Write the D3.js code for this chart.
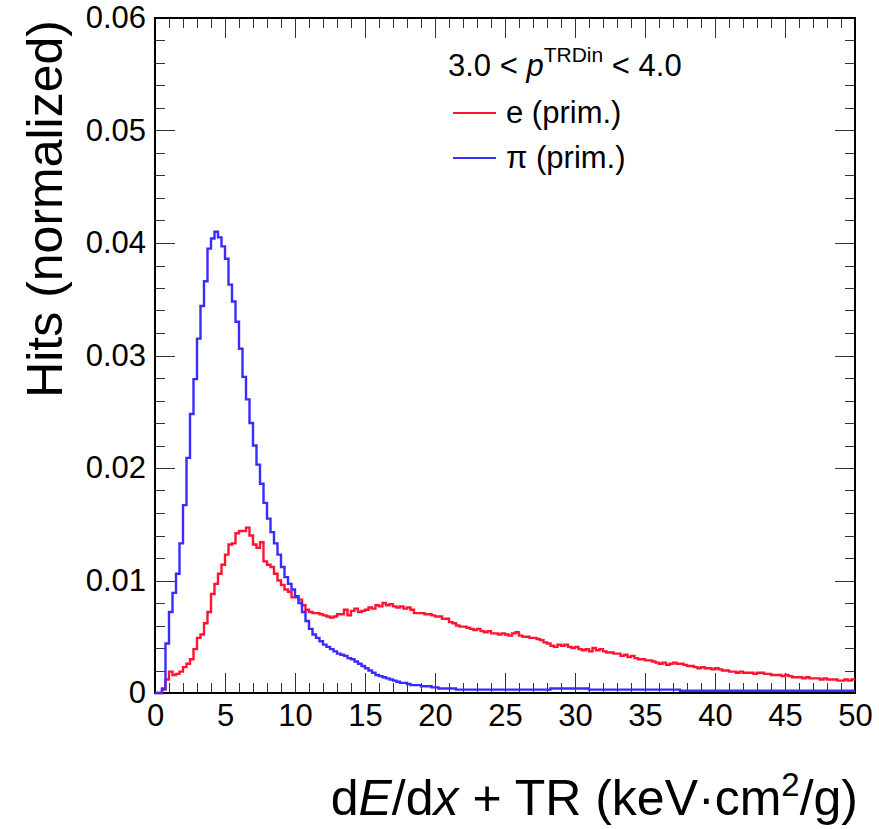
<!DOCTYPE html>
<html>
<head>
<meta charset="utf-8">
<script src="https://cdn.jsdelivr.net/npm/d3@7"></script>
<style>
  body { margin: 0; background: #fff; }
  text { font-family: "Liberation Sans", Arial, sans-serif; }
</style>
</head>
<body>
<div id="chart"></div>
<script>
// bin lower edges: 200 bins of width 0.25 over 0..50
const binWidth = 0.25;
const binEdges = d3.range(0, 50, binWidth);

// e (prim.)
const electronHits = [
  0, 0, 0.0003, 0.0012, 0.0019, 0.0016, 0.0017, 0.0019, 0.0023, 0.0026,
  0.0030, 0.0039, 0.0049, 0.0052, 0.0062, 0.0072, 0.0088, 0.0097, 0.0106, 0.0114,
  0.0123, 0.0132, 0.0133, 0.0142, 0.0144, 0.0144, 0.0147, 0.0140, 0.0132, 0.0129,
  0.0134, 0.0117, 0.0114, 0.0112, 0.0106, 0.0100, 0.0096, 0.0092, 0.0090, 0.0085,
  0.0085, 0.0083, 0.0078, 0.0074, 0.0072, 0.0071, 0.0071, 0.0070, 0.0069, 0.0068,
  0.0067, 0.0068, 0.0070, 0.0070, 0.0074, 0.0069, 0.0073, 0.0075, 0.0072, 0.0073,
  0.0074, 0.0076, 0.0075, 0.0078, 0.0077, 0.0080, 0.0078, 0.0079, 0.0077, 0.0076,
  0.0077, 0.0075, 0.0076, 0.0074, 0.0071, 0.0071, 0.0071, 0.0070, 0.0070, 0.0069,
  0.0068, 0.0068, 0.0066, 0.0066, 0.0063, 0.0062, 0.0060, 0.0059, 0.0059, 0.0058,
  0.0057, 0.0056, 0.0057, 0.0055, 0.0054, 0.0055, 0.0053, 0.0053, 0.0052, 0.0053,
  0.0052, 0.0051, 0.0053, 0.0054, 0.0051, 0.0050, 0.0050, 0.0049, 0.0049, 0.0048,
  0.0047, 0.0045, 0.0044, 0.0042, 0.0041, 0.0043, 0.0042, 0.0043, 0.0041, 0.0040,
  0.0041, 0.0039, 0.0038, 0.0039, 0.0037, 0.0040, 0.0038, 0.0039, 0.0037, 0.0036,
  0.0036, 0.0035, 0.0035, 0.0033, 0.0034, 0.0032, 0.0033, 0.0031, 0.0030, 0.0030,
  0.0029, 0.0029, 0.0028, 0.0027, 0.0026, 0.0027, 0.0025, 0.0026, 0.0027, 0.0026,
  0.0026, 0.0025, 0.0024, 0.0024, 0.0023, 0.0022, 0.0023, 0.0022, 0.0022, 0.0021,
  0.0022, 0.0021, 0.0020, 0.0020, 0.0019, 0.0019, 0.0018, 0.0019, 0.0018, 0.0018,
  0.0018, 0.0017, 0.0018, 0.0018, 0.0017, 0.0017, 0.0016, 0.0016, 0.0016, 0.0015,
  0.0016, 0.0015, 0.0014, 0.0014, 0.0014, 0.0013, 0.0014, 0.0013, 0.0013, 0.0013,
  0.0012, 0.0013, 0.0012, 0.0012, 0.0012, 0.0011, 0.0011, 0.0012, 0.0011, 0.0012
];

// pi (prim.)
const pionHits = [
  0, 0, 0.0004, 0.0044, 0.0072, 0.0089, 0.0106, 0.0133, 0.0167, 0.0209,
  0.0248, 0.0279, 0.0315, 0.0344, 0.0366, 0.0395, 0.0404, 0.0410, 0.0405, 0.0397,
  0.0386, 0.0363, 0.0348, 0.0330, 0.0306, 0.0281, 0.0261, 0.0240, 0.0220, 0.0203,
  0.0186, 0.0169, 0.0155, 0.0143, 0.0133, 0.0123, 0.0112, 0.0103, 0.0097, 0.0092,
  0.0086, 0.0080, 0.0072, 0.0064, 0.0057, 0.0052, 0.0049, 0.0046, 0.0043, 0.0041,
  0.0039, 0.0037, 0.0035, 0.0034, 0.0033, 0.0031, 0.0030, 0.0028, 0.0026, 0.0024,
  0.0022, 0.0020, 0.0018, 0.0016, 0.0015, 0.0014, 0.0013, 0.0012, 0.0011, 0.0010,
  0.0009, 0.0009, 0.0008, 0.0007, 0.0007, 0.0007, 0.0006, 0.0006, 0.0006, 0.0005,
  0.0005, 0.0004, 0.0004, 0.0004, 0.0004, 0.0004, 0.0003, 0.0003, 0.0003, 0.0003,
  0.0003, 0.0003, 0.0003, 0.0003, 0.0003, 0.0003, 0.0003, 0.0003, 0.0003, 0.0003,
  0.0003, 0.0003, 0.0003, 0.0003, 0.0003, 0.0003, 0.0003, 0.0003, 0.0003, 0.0003,
  0.0003, 0.0003, 0.0003, 0.0004, 0.0004, 0.0004, 0.0004, 0.0004, 0.0004, 0.0004,
  0.0004, 0.0004, 0.0004, 0.0004, 0.0003, 0.0003, 0.0003, 0.0003, 0.0003, 0.0003,
  0.0003, 0.0003, 0.0003, 0.0003, 0.0003, 0.0003, 0.0003, 0.0003, 0.0003, 0.0003,
  0.0003, 0.0003, 0.0003, 0.0003, 0.0003, 0.0003, 0.0003, 0.0003, 0.0003, 0.0003,
  0.0002, 0.0002, 0.0002, 0.0002, 0.0002, 0.0002, 0.0002, 0.0002, 0.0002, 0.0002,
  0.0002, 0.0002, 0.0002, 0.0002, 0.0002, 0.0002, 0.0002, 0.0002, 0.0002, 0.0002,
  0.0002, 0.0002, 0.0002, 0.0002, 0.0002, 0.0002, 0.0002, 0.0002, 0.0002, 0.0002,
  0.0002, 0.0002, 0.0002, 0.0002, 0.0002, 0.0002, 0.0002, 0.0002, 0.0002, 0.0002,
  0.0002, 0.0002, 0.0002, 0.0002, 0.0002, 0.0002, 0.0002, 0.0002, 0.0002, 0.0002
];

const xTicks = [0, 5, 10, 15, 20, 25, 30, 35, 40, 45, 50];
const yTicks = [0, 0.01, 0.02, 0.03, 0.04, 0.05, 0.06];
const seriesNames = ["e (prim.)", "\u03c0 (prim.)"];
const seriesColors = ["#ff1432", "#3b2bff"];

const width = 879, height = 829;
const margin = { top: 18, right: 24, bottom: 136, left: 155 };
const plotW = width - margin.left - margin.right;
const plotH = height - margin.top - margin.bottom;

const svg = d3.select("#chart").append("svg")
  .attr("width", width)
  .attr("height", height);

const x = d3.scaleLinear().domain([0, 50]).range([margin.left, margin.left + plotW]);
const y = d3.scaleLinear().domain([0, 0.06]).range([margin.top + plotH, margin.top]);

// ticks on all four sides, ROOT style (inside the frame)
const xMinor = d3.range(0, 51, 1);
const yMinor = d3.range(0, 0.0601, 0.002);
const tickG = svg.append("g").attr("stroke", "#333").attr("stroke-width", 1);
xMinor.forEach(function (v) {
  const len = v % 5 === 0 ? 20 : 10;
  const px = Math.round(x(v)) + 0.5;
  tickG.append("line").attr("x1", px).attr("x2", px)
    .attr("y1", y(0)).attr("y2", y(0) - len);
  tickG.append("line").attr("x1", px).attr("x2", px)
    .attr("y1", y(0.06)).attr("y2", y(0.06) + len);
});
yMinor.forEach(function (v, i) {
  const len = i % 5 === 0 ? 20 : 10;
  const py = Math.round(y(v)) + 0.5;
  tickG.append("line").attr("x1", x(0)).attr("x2", x(0) + len)
    .attr("y1", py).attr("y2", py);
  tickG.append("line").attr("x1", x(50)).attr("x2", x(50) - len)
    .attr("y1", py).attr("y2", py);
});

// histograms
const line = d3.line()
  .x(function (d) { return x(d[0]); })
  .y(function (d) { return y(d[1]); })
  .curve(d3.curveStepAfter);

// frame
svg.append("rect")
  .attr("x", x(0)).attr("y", y(0.06))
  .attr("width", x(50) - x(0)).attr("height", y(0) - y(0.06))
  .attr("fill", "none")
  .attr("stroke", "#000")
  .attr("stroke-width", 2);

[electronHits, pionHits].forEach(function (vals, k) {
  const pts = binEdges.map(function (e, i) { return [e, vals[i]]; });
  pts.push([50, vals[vals.length - 1]]);
  svg.append("path")
    .datum(pts)
    .attr("d", line)
    .attr("fill", "none")
    .attr("stroke", seriesColors[k])
    .attr("stroke-width", 2.4);
});

// axes (labels only, ticks drawn above)
const xAxis = svg.append("g")
  .attr("transform", `translate(0,${y(0)})`)
  .call(d3.axisBottom(x).tickValues(xTicks).tickSize(0).tickPadding(11)
    .tickFormat(d3.format("d")));
xAxis.select(".domain").remove();
xAxis.selectAll("text")
  .attr("dy", "0.71em")
  .style("font-size", "31px")
  .attr("fill", "#000");

const yAxis = svg.append("g")
  .attr("transform", `translate(${x(0)},0)`)
  .call(d3.axisLeft(y).tickValues(yTicks).tickSize(0).tickPadding(9)
    .tickFormat(function (d) { return d === 0 ? "0" : d3.format(".2f")(d); }));
yAxis.select(".domain").remove();
yAxis.selectAll("text")
  .style("font-size", "31px")
  .attr("fill", "#000");

// axis titles
svg.append("text")
  .attr("transform", "translate(62,20) rotate(-90)")
  .attr("text-anchor", "end")
  .style("font-size", "50px")
  .text("Hits (normalized)");

const xt = svg.append("text")
  .attr("x", 858).attr("y", 815)
  .attr("text-anchor", "end")
  .style("font-size", "50px");
xt.append("tspan").text("d");
xt.append("tspan").style("font-style", "italic").text("E");
xt.append("tspan").text("/d");
xt.append("tspan").style("font-style", "italic").text("x");
xt.append("tspan").text(" + TR (keV\u00b7cm");
xt.append("tspan").attr("dy", -19).style("font-size", "33px").text("2");
xt.append("tspan").attr("dy", 19).text("/g)");

// legend
const leg = svg.append("text")
  .attr("x", 448).attr("y", 76)
  .style("font-size", "31px");
leg.append("tspan").text("3.0 < ");
leg.append("tspan").style("font-style", "italic").text("p");
leg.append("tspan").attr("dy", -14).style("font-size", "21px").text("TRDin");
leg.append("tspan").attr("dy", 14).text(" < 4.0");

seriesNames.forEach(function (name, k) {
  const ly = 113 + k * 45;
  svg.append("line")
    .attr("x1", 453).attr("x2", 496)
    .attr("y1", ly).attr("y2", ly)
    .attr("stroke", seriesColors[k])
    .attr("stroke-width", 2);
  svg.append("text")
    .attr("x", 506).attr("y", ly + 10)
    .style("font-size", "31px")
    .text(name);
});
</script>
</body>
</html>
